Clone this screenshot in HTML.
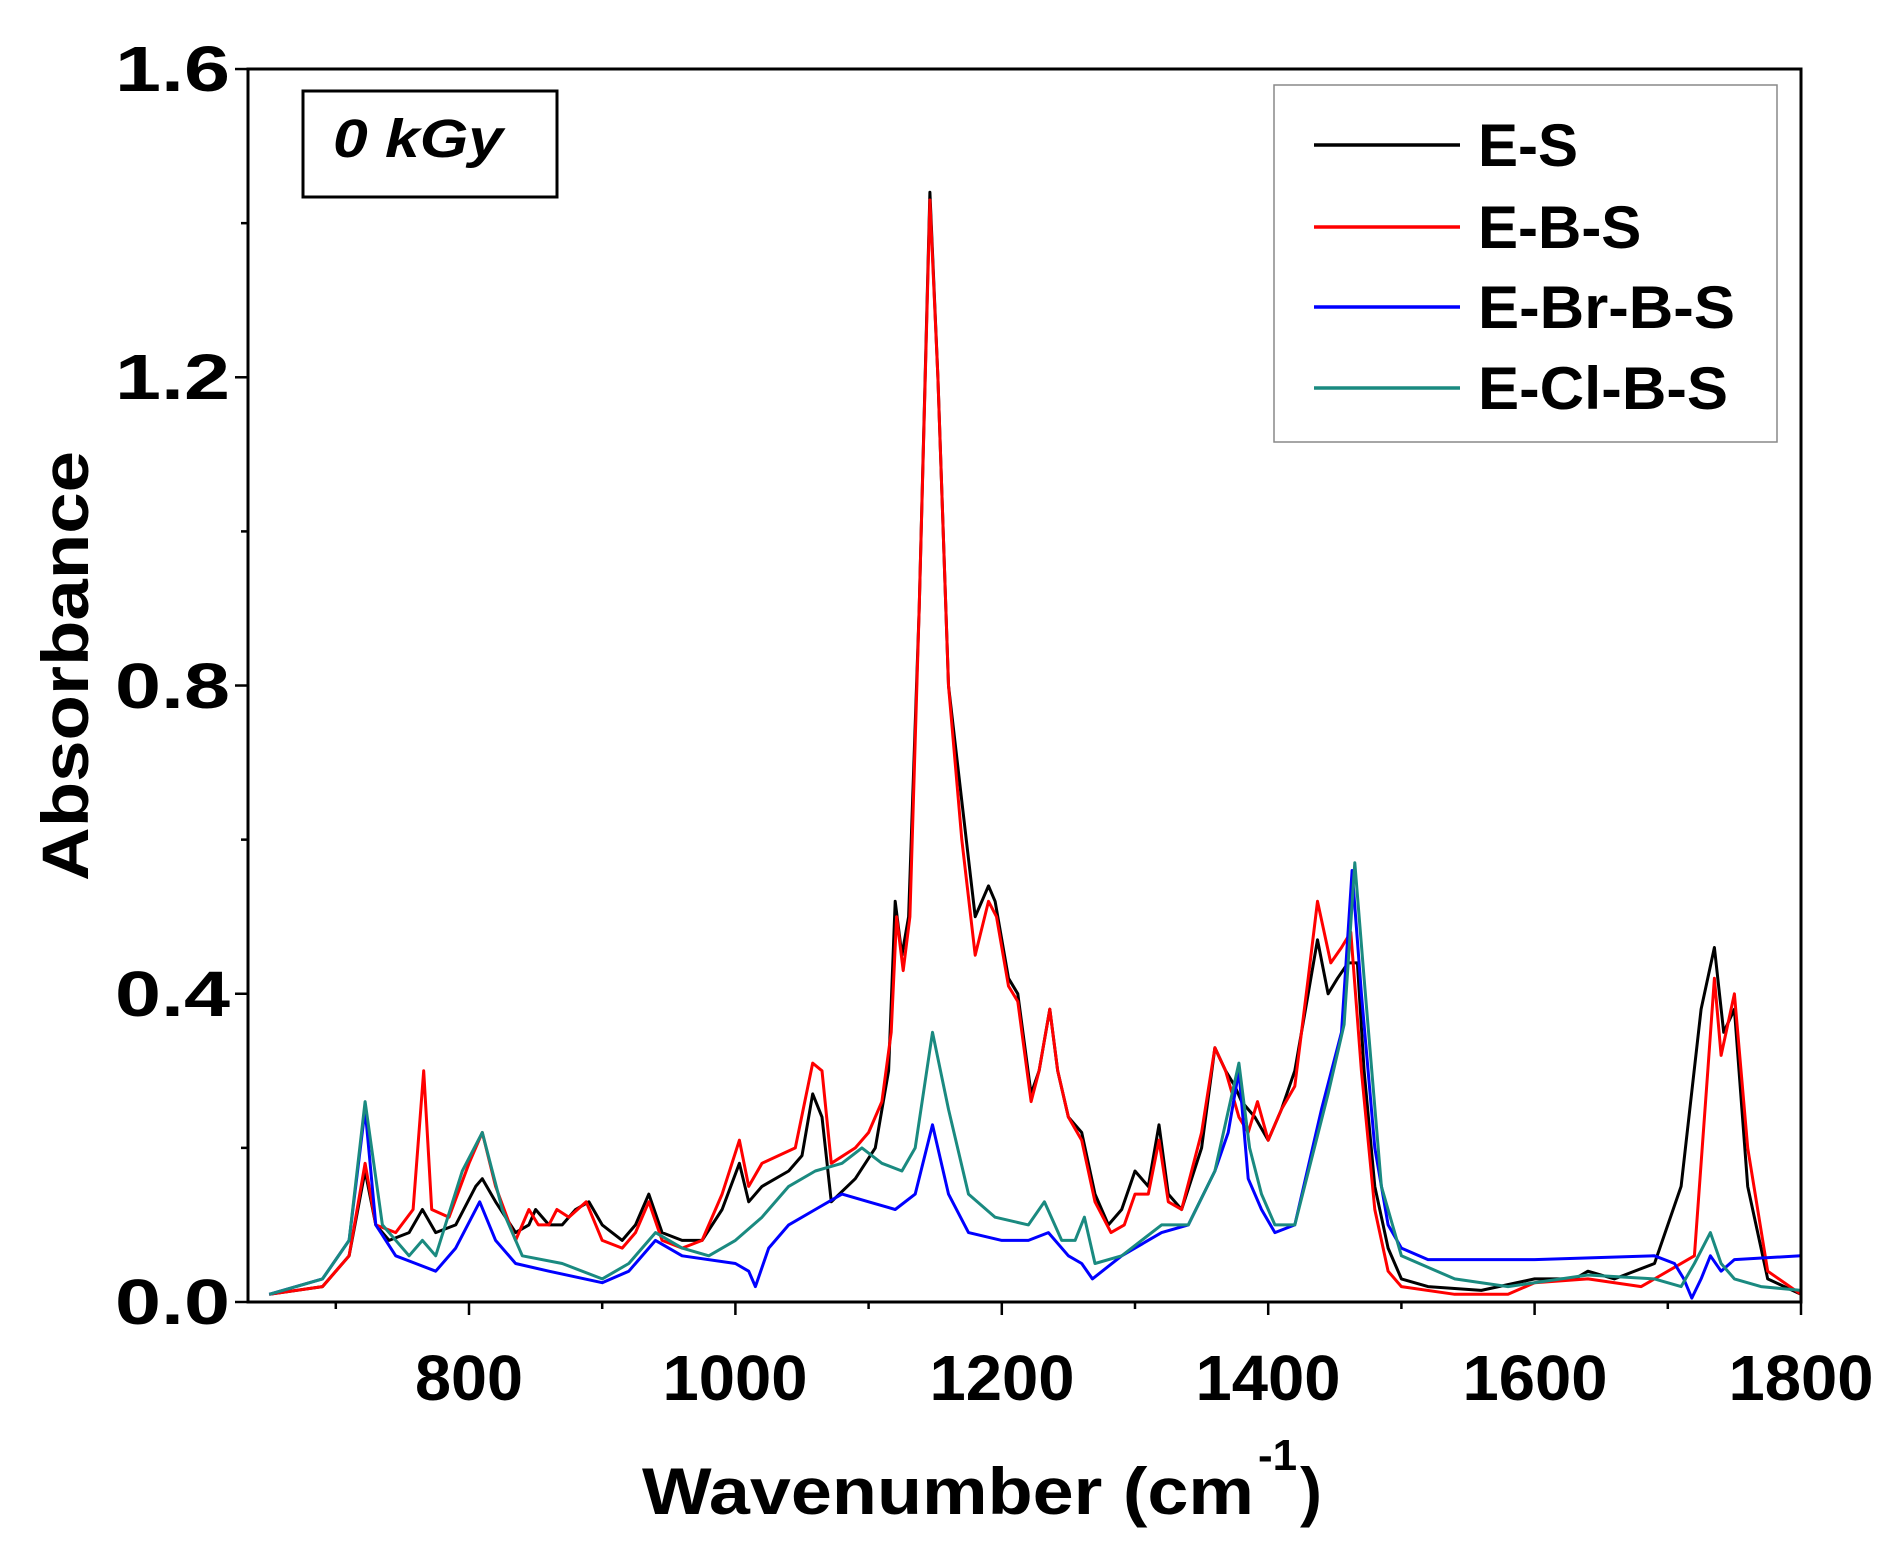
<!DOCTYPE html>
<html><head><meta charset="utf-8"><style>
html,body{margin:0;padding:0;background:#fff;}
svg{display:block;font-family:"Liberation Sans",Arial,sans-serif;}
</style></head><body>
<svg id="s" width="1899" height="1563" viewBox="0 0 1899 1563" xmlns="http://www.w3.org/2000/svg">
<rect width="1899" height="1563" fill="#fff"/>
<g id="plot"></g>
<rect x="248" y="69" width="1553" height="1233" fill="none" stroke="#000" stroke-width="3"/>
<g font-weight="bold" font-size="64" text-anchor="end" fill="#000">
<text x="230" y="1324" textLength="115" lengthAdjust="spacingAndGlyphs">0.0</text>
<text x="230" y="1016" textLength="115" lengthAdjust="spacingAndGlyphs">0.4</text>
<text x="230" y="708" textLength="115" lengthAdjust="spacingAndGlyphs">0.8</text>
<text x="230" y="399" textLength="115" lengthAdjust="spacingAndGlyphs">1.2</text>
<text x="230" y="91" textLength="115" lengthAdjust="spacingAndGlyphs">1.6</text>
</g>
<g font-weight="bold" font-size="64" text-anchor="middle" fill="#000">
<text x="469" y="1400" textLength="108" lengthAdjust="spacingAndGlyphs">800</text>
<text x="735" y="1400" textLength="145" lengthAdjust="spacingAndGlyphs">1000</text>
<text x="1002" y="1400" textLength="145" lengthAdjust="spacingAndGlyphs">1200</text>
<text x="1268" y="1400" textLength="145" lengthAdjust="spacingAndGlyphs">1400</text>
<text x="1535" y="1400" textLength="145" lengthAdjust="spacingAndGlyphs">1600</text>
<text x="1801" y="1400" textLength="145" lengthAdjust="spacingAndGlyphs">1800</text>
</g>
<text transform="translate(88,666) rotate(-90)" font-weight="bold" font-size="66" text-anchor="middle" textLength="430" lengthAdjust="spacingAndGlyphs">Absorbance</text>
<text x="642" y="1514" font-weight="bold" font-size="66" textLength="612" lengthAdjust="spacingAndGlyphs">Wavenumber (cm</text>
<text x="1258" y="1470" font-weight="bold" font-size="44">-1</text>
<text x="1300" y="1514" font-weight="bold" font-size="66">)</text>
<rect x="303" y="91" width="254" height="106" fill="#fff" stroke="#000" stroke-width="3"/>
<text x="333" y="157" font-weight="bold" font-style="italic" font-size="54" textLength="170" lengthAdjust="spacingAndGlyphs">0 kGy</text>
<rect x="1274" y="85" width="503" height="357" fill="#fff" stroke="#888" stroke-width="1.5"/>
<g stroke-width="3.5">
<line x1="1314" y1="145" x2="1460" y2="145" stroke="#000"/>
<line x1="1314" y1="227" x2="1460" y2="227" stroke="#f00"/>
<line x1="1314" y1="307" x2="1460" y2="307" stroke="#00f"/>
<line x1="1314" y1="388" x2="1460" y2="388" stroke="#1a8a80"/>
</g>
<g font-weight="bold" font-size="60" fill="#000">
<text x="1478" y="166">E-S</text><text x="1478" y="248">E-B-S</text><text x="1478" y="328" textLength="257" lengthAdjust="spacingAndGlyphs">E-Br-B-S</text><text x="1478" y="409" textLength="250" lengthAdjust="spacingAndGlyphs">E-Cl-B-S</text>
</g>
</svg>
<script>
function X(w){return 469+(w-800)*1.332;}
function Y(a){return 1302-a*770.6;}
var S={
"#000":[650,0.01,690,0.02,710,0.06,722,0.17,730,0.1,740,0.08,755,0.09,765,0.12,775,0.09,790,0.1,805,0.15,810,0.16,820,0.13,835,0.09,845,0.1,850,0.12,860,0.1,870,0.1,880,0.12,890,0.13,900,0.1,915,0.08,925,0.1,935,0.14,945,0.09,960,0.08,975,0.08,990,0.12,1003,0.18,1010,0.13,1020,0.15,1040,0.17,1050,0.19,1058,0.27,1065,0.24,1072,0.13,1090,0.16,1105,0.2,1115,0.3,1120,0.52,1125,0.45,1130,0.5,1138,0.9,1146,1.44,1152,1.2,1160,0.8,1170,0.65,1180,0.5,1190,0.54,1195,0.52,1205,0.42,1212,0.4,1222,0.27,1228,0.3,1236,0.38,1242,0.3,1250,0.24,1260,0.22,1270,0.14,1280,0.1,1290,0.12,1300,0.17,1310,0.15,1318,0.23,1325,0.14,1335,0.12,1350,0.2,1360,0.33,1368,0.3,1375,0.28,1380,0.26,1390,0.24,1400,0.21,1410,0.25,1420,0.3,1430,0.4,1437,0.47,1445,0.4,1452,0.42,1460,0.44,1467,0.44,1472,0.3,1480,0.15,1490,0.07,1500,0.03,1520,0.02,1560,0.015,1600,0.03,1630,0.03,1640,0.04,1660,0.03,1690,0.05,1710,0.15,1725,0.38,1735,0.46,1742,0.35,1750,0.38,1760,0.15,1775,0.03,1800,0.01],
"#f00":[650,0.01,690,0.02,710,0.06,722,0.18,730,0.1,745,0.09,758,0.12,766,0.3,772,0.12,785,0.11,800,0.18,810,0.22,820,0.15,835,0.08,845,0.12,852,0.1,860,0.1,866,0.12,875,0.11,888,0.13,900,0.08,915,0.07,925,0.09,935,0.13,945,0.08,960,0.07,975,0.08,990,0.14,1003,0.21,1010,0.15,1020,0.18,1045,0.2,1058,0.31,1065,0.3,1072,0.18,1090,0.2,1100,0.22,1110,0.26,1117,0.35,1121,0.5,1126,0.43,1131,0.5,1138,0.9,1146,1.43,1152,1.2,1160,0.8,1170,0.6,1180,0.45,1190,0.52,1196,0.5,1205,0.41,1212,0.39,1222,0.26,1228,0.3,1236,0.38,1242,0.3,1250,0.24,1260,0.21,1270,0.13,1282,0.09,1292,0.1,1300,0.14,1310,0.14,1318,0.21,1325,0.13,1335,0.12,1350,0.22,1360,0.33,1368,0.3,1378,0.24,1385,0.22,1392,0.26,1400,0.21,1410,0.25,1420,0.28,1430,0.42,1437,0.52,1447,0.44,1455,0.46,1462,0.48,1470,0.3,1480,0.12,1490,0.04,1500,0.02,1540,0.01,1580,0.01,1600,0.025,1640,0.03,1680,0.02,1720,0.06,1730,0.3,1735,0.42,1740,0.32,1750,0.4,1760,0.2,1775,0.04,1800,0.01],
"#00f":[650,0.01,690,0.03,710,0.08,722,0.25,730,0.1,745,0.06,760,0.05,775,0.04,790,0.07,808,0.13,820,0.08,835,0.05,860,0.04,900,0.025,920,0.04,940,0.08,960,0.06,1000,0.05,1010,0.04,1015,0.02,1025,0.07,1040,0.1,1060,0.12,1080,0.14,1100,0.13,1120,0.12,1135,0.14,1148,0.23,1160,0.14,1175,0.09,1200,0.08,1220,0.08,1235,0.09,1250,0.06,1260,0.05,1268,0.03,1290,0.06,1320,0.09,1340,0.1,1360,0.17,1370,0.22,1378,0.3,1385,0.16,1395,0.12,1405,0.09,1420,0.1,1440,0.25,1455,0.35,1463,0.56,1470,0.4,1480,0.2,1490,0.1,1500,0.07,1520,0.055,1600,0.055,1690,0.06,1705,0.05,1712,0.03,1718,0.005,1725,0.03,1732,0.06,1740,0.04,1750,0.055,1800,0.06],
"#1a8a80":[650,0.01,690,0.03,710,0.08,722,0.26,735,0.1,755,0.06,765,0.08,775,0.06,795,0.17,810,0.22,825,0.12,840,0.06,870,0.05,900,0.03,920,0.05,940,0.09,960,0.07,980,0.06,1000,0.08,1020,0.11,1040,0.15,1060,0.17,1080,0.18,1095,0.2,1110,0.18,1125,0.17,1135,0.2,1148,0.35,1160,0.25,1175,0.14,1195,0.11,1220,0.1,1232,0.13,1245,0.08,1255,0.08,1262,0.11,1270,0.05,1290,0.06,1320,0.1,1340,0.1,1360,0.17,1378,0.31,1386,0.2,1395,0.14,1405,0.1,1420,0.1,1445,0.27,1457,0.36,1465,0.57,1472,0.42,1485,0.15,1500,0.06,1540,0.03,1580,0.02,1640,0.035,1690,0.03,1710,0.02,1720,0.05,1732,0.09,1740,0.05,1750,0.03,1770,0.02,1800,0.015]};
var g=document.getElementById('plot'),h='';
for(var c in S){var a=S[c],p=[];for(var i=0;i<a.length;i+=2)p.push(Math.max(248,X(a[i])).toFixed(1)+','+Y(a[i+1]).toFixed(1));
h+='<polyline fill="none" stroke="'+c+'" stroke-width="3" stroke-linejoin="round" points="'+p.join(' ')+'"/>';}
for(var w=700;w<=1800;w+=100){var x=X(w);h+='<line x1="'+x+'" y1="1302" x2="'+x+'" y2="'+(w%200==0?1315:1309)+'" stroke="#000" stroke-width="2.5"/>';}
for(var v=0;v<=1.6001;v+=0.2){var y=Y(v);h+='<line x1="248" y1="'+y+'" x2="'+(Math.round(v*10)%4==0?235:241)+'" y2="'+y+'" stroke="#000" stroke-width="2.5"/>';}
g.innerHTML=h;
</script>
</body></html>
